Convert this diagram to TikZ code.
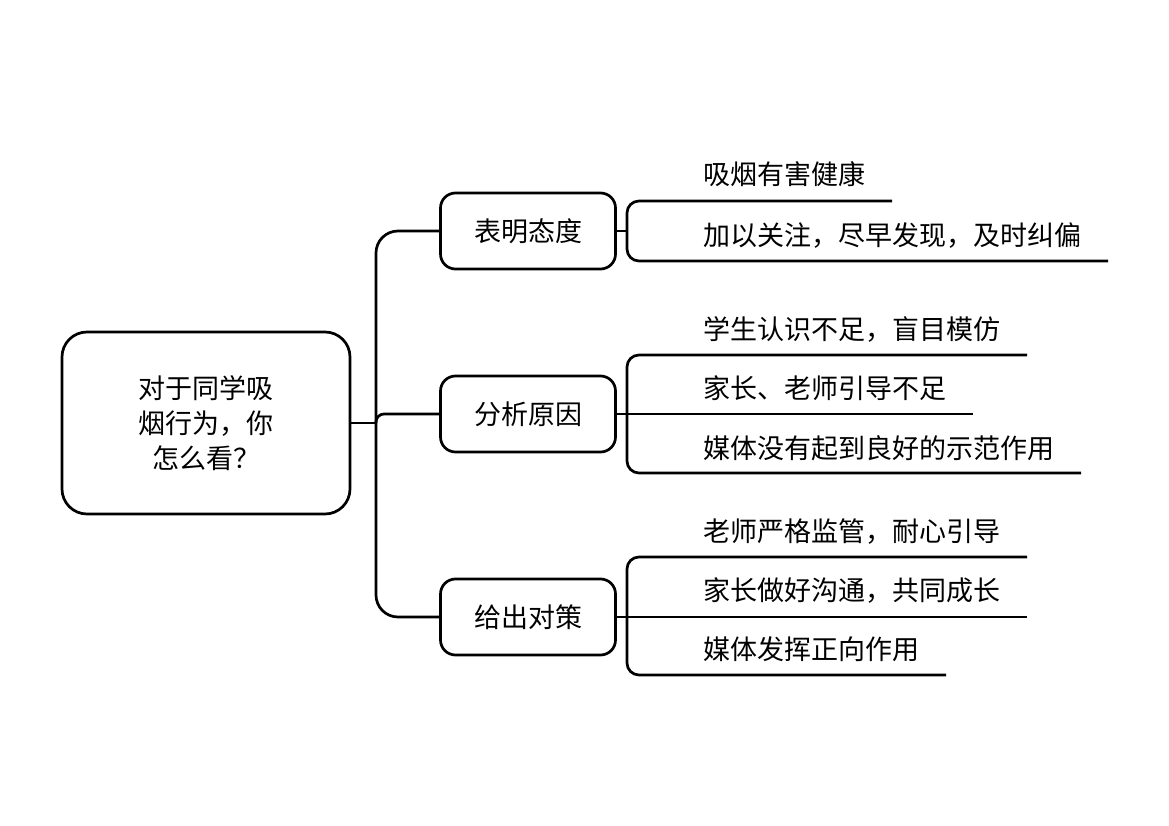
\documentclass[tikz,border=0pt]{standalone}
\usepackage{fontspec}
\setmainfont{Noto Sans CJK SC}

\begin{document}
\begin{tikzpicture}[x=1pt, y=-1pt,
    every node/.style={font=\fontsize{27}{35}\selectfont},
    vetev/.style={line width=2.7pt, rounded corners=12pt},
    otazka/.style={draw, line width=2.7pt, rounded corners=25pt,
        minimum width=288pt, minimum height=182pt, align=center},
    tema/.style={draw, line width=2.7pt, rounded corners=15pt,
        minimum width=175pt, minimum height=76pt},
    bod/.style={anchor=base west, inner sep=0pt}]

    \useasboundingbox (0,0) rectangle (1169,826);

    % koren a tri temata
    \node[otazka] (q) at (206,423) {对于同学吸\\烟行为，你\\怎么看？};
    \node[tema] (t1) at (528,231) {表明态度};
    \node[tema] (t2) at (528,414) {分析原因};
    \node[tema] (t3) at (528,617) {给出对策};

    % kmen
    \coordinate (k) at (376,423);
    \draw[vetev] (q.east) -- (k);
    \draw[vetev, rounded corners=22pt] (t1.west) -| (k) |- (t3.west);
    \draw[vetev, rounded corners=8pt] (k) |- (t2.west);

    %表明态度
    \node[bod] (s11) at (703,185) {吸烟有害健康};
    \node[bod] (s12) at (703,246) {加以关注，尽早发现，及时纠偏};
    \coordinate (b1) at (627,231);
    \coordinate (e11) at (892,201);
    \coordinate (e12) at (1108,261);
    \draw[vetev] (t1.east) -- (b1);
    \draw[vetev] (e11) -- (e11 -| b1) -- (e12 -| b1) -- (e12);

    % 分析原因
    \node[bod] (s21) at (703,339) {学生认识不足，盲目模仿};
    \node[bod] (s22) at (703,398) {家长、老师引导不足};
    \node[bod] (s23) at (703,458) {媒体没有起到良好的示范作用};
    \coordinate (b2) at (627,414);
    \coordinate (e21) at (1027,355);
    \coordinate (e22) at (973,414);
    \coordinate (e23) at (1081,473);
    \draw[vetev] (t2.east) -- (e22);
    \draw[vetev] (e21) -- (e21 -| b2) -- (e23 -| b2) -- (e23);

    % 给出对策
    \node[bod] (s31) at (703,541) {老师严格监管，耐心引导};
    \node[bod] (s32) at (703,600) {家长做好沟通，共同成长};
    \node[bod] (s33) at (703,659) {媒体发挥正向作用};
    \coordinate (b3) at (627,617);
    \coordinate (e31) at (1027,557);
    \coordinate (e32) at (1027,617);
    \coordinate (e33) at (946,675);
    \draw[vetev] (t3.east) -- (e32);
    \draw[vetev] (e31) -- (e31 -| b3) -- (e33 -| b3) -- (e33);

\end{tikzpicture}
\end{document}
